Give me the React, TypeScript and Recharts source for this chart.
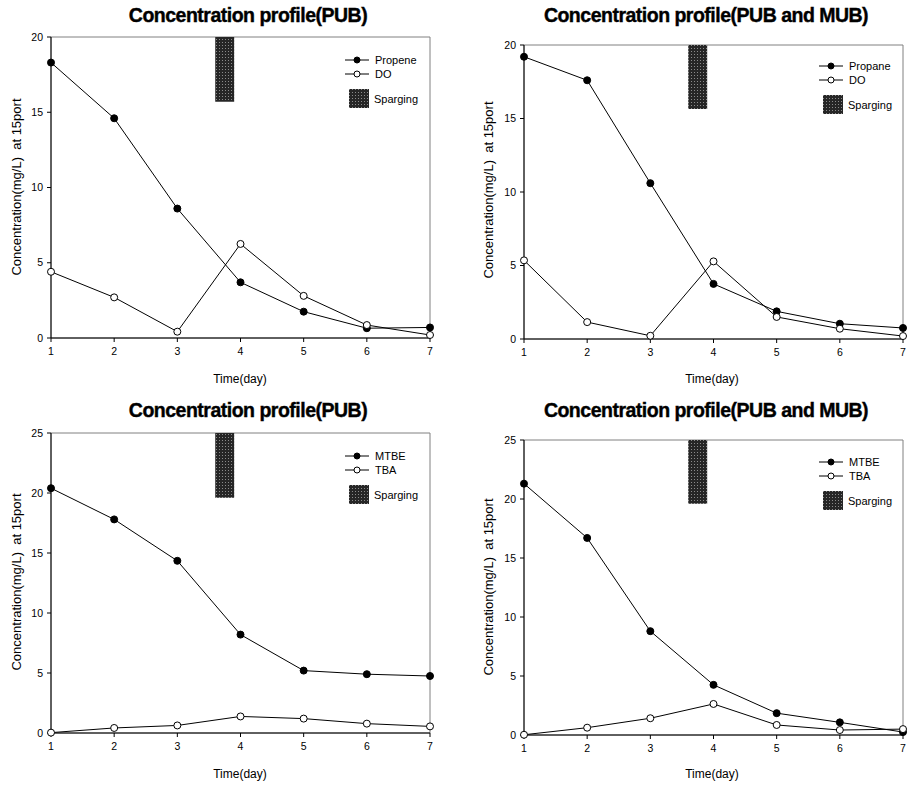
import React from 'react';
import { LineChart, Line, XAxis, YAxis, ReferenceArea } from 'recharts';

const days = [1, 2, 3, 4, 5, 6, 7];
const propenePUB = [18.3, 14.6, 8.6, 3.7, 1.75, 0.65, 0.7];
const doPUB = [4.4, 2.7, 0.42, 6.25, 2.8, 0.86, 0.2];
const propanePUBMUB = [19.2, 17.6, 10.6, 3.75, 1.88, 1.04, 0.75];
const doPUBMUB = [5.35, 1.15, 0.22, 5.28, 1.5, 0.7, 0.2];
const mtbePUB = [20.4, 17.8, 14.35, 8.2, 5.2, 4.9, 4.75];
const tbaPUB = [0.03, 0.42, 0.63, 1.38, 1.2, 0.78, 0.55];
const mtbePUBMUB = [21.3, 16.7, 8.8, 4.25, 1.85, 1.07, 0.25];
const tbaPUBMUB = [0.02, 0.62, 1.42, 2.63, 0.85, 0.42, 0.5];

const yTicks20 = [0, 5, 10, 15, 20];
const yTicks25 = [0, 5, 10, 15, 20, 25];
const spargeDays = [3.6, 3.9];

const FONT = '"Liberation Sans", Arial, sans-serif';
const W = 454;
const H = 395;

type PanelProps = {
  id: string;
  left: number;
  top: number;
  title: string;
  names: [string, string];
  a: number[];
  b: number[];
  yTicks: number[];
  spargeFrom: number;
  plot: { l: number; r: number; t: number; b: number };
  titleX: number;
  xLabelX: number;
  yLabelX: number;
  yLabelY: number;
  legend: { x: number; y: number };
};

const SpargeSwatch = ({ id, w, h }: { id: string; w: number; h: number }) => (
  <svg width={w} height={h} style={{ display: 'block' }}>
    <defs>
      <pattern id={id} width="3" height="3" patternUnits="userSpaceOnUse">
        <rect width="3" height="3" fill="#262626" />
        <rect width="1" height="1" fill="#8a8a8a" />
      </pattern>
    </defs>
    <rect width={w} height={h} fill={`url(#${id})`} />
  </svg>
);

const LegendBox = ({ id, names }: { id: string; names: [string, string] }) => {
  const row = (label: string, filled: boolean) => (
    <div style={{ display: 'flex', alignItems: 'center', height: 14 }}>
      <svg width={24} height={10} style={{ display: 'block' }}>
        <line x1={0} y1={5} x2={24} y2={5} stroke="#000" strokeWidth={1} />
        <circle cx={12} cy={5} r={3} fill={filled ? '#000' : '#fff'} stroke="#000" />
      </svg>
      <span style={{ marginLeft: 6 }}>{label}</span>
    </div>
  );
  return (
    <div style={{ fontFamily: FONT, fontSize: 11, color: '#000', lineHeight: '14px' }}>
      {row(names[0], true)}
      {row(names[1], false)}
      <div style={{ display: 'flex', alignItems: 'center', marginTop: 8 }}>
        <div style={{ marginLeft: 4 }}>
          <SpargeSwatch id={`${id}-lg`} w={20} h={19} />
        </div>
        <span style={{ marginLeft: 5 }}>Sparging</span>
      </div>
    </div>
  );
};

const Panel = (p: PanelProps) => {
  const data = days.map((d, i) => ({ day: d, a: p.a[i], b: p.b[i] }));
  const yMax = p.yTicks[p.yTicks.length - 1];
  const yAxisW = 30;
  const xAxisH = 30;
  const margin = {
    top: p.plot.t,
    right: W - p.plot.r,
    bottom: H - p.plot.b - xAxisH,
    left: p.plot.l - yAxisW,
  };
  const tick = { fontSize: 10.5, fill: '#000', fontFamily: FONT };
  return (
    <div style={{ position: 'absolute', left: p.left, top: p.top, width: W, height: H }}>
      <LineChart width={W} height={H} data={data} margin={margin}>
        <defs>
          <pattern id={p.id} width="3" height="3" patternUnits="userSpaceOnUse">
            <rect width="3" height="3" fill="#262626" />
            <rect width="1" height="1" fill="#8a8a8a" />
          </pattern>
        </defs>
        <XAxis
          dataKey="day"
          type="number"
          domain={[1, 7]}
          ticks={days}
          height={xAxisH}
          tick={tick}
          tickSize={4}
          tickMargin={6}
          axisLine={{ stroke: '#000' }}
          tickLine={{ stroke: '#000' }}
        />
        <YAxis
          type="number"
          domain={[0, yMax]}
          ticks={p.yTicks}
          width={yAxisW}
          tick={tick}
          tickSize={4}
          tickMargin={4}
          axisLine={{ stroke: '#000' }}
          tickLine={{ stroke: '#000' }}
        />
        <ReferenceArea x1={1} x2={7} y1={0} y2={yMax} fill="none" stroke="#808080" strokeWidth={1} />
        <ReferenceArea
          x1={spargeDays[0]}
          x2={spargeDays[1]}
          y1={p.spargeFrom}
          y2={yMax}
          fill={`url(#${p.id})`}
          fillOpacity={1}
          stroke="none"
        />
        <Line
          type="linear"
          dataKey="a"
          name={p.names[0]}
          stroke="#000"
          strokeWidth={1}
          dot={{ r: 3.5, fill: '#000', stroke: '#000', strokeWidth: 1 }}
          isAnimationActive={false}
        />
        <Line
          type="linear"
          dataKey="b"
          name={p.names[1]}
          stroke="#000"
          strokeWidth={1}
          dot={{ r: 3.5, fill: '#fff', stroke: '#000', strokeWidth: 1 }}
          isAnimationActive={false}
        />
      </LineChart>
      <div style={{ position: 'absolute', left: p.legend.x, top: p.legend.y }}>
        <LegendBox id={p.id} names={p.names} />
      </div>
      <div
        style={{
          position: 'absolute',
          left: p.titleX - 220,
          width: 440,
          top: 4,
          textAlign: 'center',
          fontFamily: FONT,
          fontWeight: 'bold',
          fontSize: 19.5,
          letterSpacing: -0.5,
          WebkitTextStroke: '0.4px #000',
          color: '#000',
        }}
      >
        {p.title}
      </div>
      <div
        style={{
          position: 'absolute',
          left: p.xLabelX - 60,
          width: 120,
          top: 372,
          textAlign: 'center',
          fontFamily: FONT,
          fontSize: 12,
          color: '#000',
        }}
      >
        Time(day)
      </div>
      <div
        style={{
          position: 'absolute',
          left: p.yLabelX - 120,
          top: p.yLabelY - 8,
          width: 240,
          height: 16,
          lineHeight: '16px',
          textAlign: 'center',
          fontFamily: FONT,
          fontSize: 13,
          whiteSpace: 'pre',
          color: '#000',
          transform: 'rotate(-90deg)',
        }}
      >
        {'Concentration(mg/L)  at 15port'}
      </div>
    </div>
  );
};

export default function App() {
  return (
    <div style={{ position: 'absolute', left: 0, top: 0, width: 908, height: 791, background: '#fff' }}>
      <Panel
        id="p1"
        left={0}
        top={0}
        title="Concentration profile(PUB)"
        names={['Propene', 'DO']}
        a={propenePUB}
        b={doPUB}
        yTicks={yTicks20}
        spargeFrom={15.7}
        plot={{ l: 51, r: 430, t: 37, b: 338 }}
        titleX={248}
        xLabelX={240}
        yLabelX={17}
        yLabelY={187}
        legend={{ x: 345, y: 53 }}
      />
      <Panel
        id="p2"
        left={454}
        top={0}
        title="Concentration profile(PUB and MUB)"
        names={['Propane', 'DO']}
        a={propanePUBMUB}
        b={doPUBMUB}
        yTicks={yTicks20}
        spargeFrom={15.65}
        plot={{ l: 70, r: 449, t: 45, b: 339 }}
        titleX={252}
        xLabelX={258}
        yLabelX={35}
        yLabelY={190}
        legend={{ x: 365, y: 59 }}
      />
      <Panel
        id="p3"
        left={0}
        top={395}
        title="Concentration profile(PUB)"
        names={['MTBE', 'TBA']}
        a={mtbePUB}
        b={tbaPUB}
        yTicks={yTicks25}
        spargeFrom={19.6}
        plot={{ l: 51, r: 430, t: 38, b: 338 }}
        titleX={248}
        xLabelX={240}
        yLabelX={17}
        yLabelY={187}
        legend={{ x: 345, y: 54 }}
      />
      <Panel
        id="p4"
        left={454}
        top={395}
        title="Concentration profile(PUB and MUB)"
        names={['MTBE', 'TBA']}
        a={mtbePUBMUB}
        b={tbaPUBMUB}
        yTicks={yTicks25}
        spargeFrom={19.6}
        plot={{ l: 70, r: 449, t: 45, b: 340 }}
        titleX={252}
        xLabelX={258}
        yLabelX={35}
        yLabelY={192}
        legend={{ x: 365, y: 60 }}
      />
    </div>
  );
}
